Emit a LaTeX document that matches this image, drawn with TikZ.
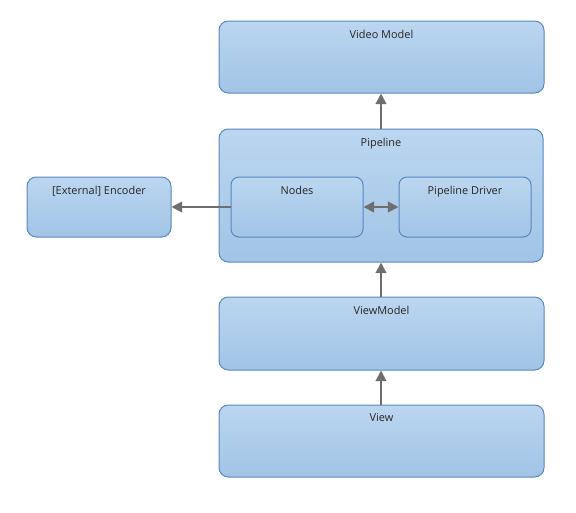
\documentclass[tikz,border=0pt]{standalone}
\usepackage{fontspec}
\setmainfont{Open Sans}
\usetikzlibrary{arrows.meta,fit}
\definecolor{boxtop}{RGB}{187,214,239}
\definecolor{boxbot}{RGB}{161,196,230}
\definecolor{boxline}{RGB}{88,136,194}
\definecolor{arrowgray}{RGB}{110,110,110}
\begin{document}
\begin{tikzpicture}[x=0.75pt,y=-0.75pt,
  box/.style={draw=boxline, line width=0.75pt, rounded corners=7pt,
    top color=boxtop, bottom color=boxbot, inner sep=0pt},
  inbox/.style={box, rounded corners=6pt},
  title/.style={anchor=north, inner sep=0pt, yshift=-6.8pt,
    font=\fontsize{8.2pt}{10pt}\selectfont, text=black!85},
  conn/.style={draw=arrowgray, line width=1.5pt,
    -{Triangle[length=8pt,width=8pt]}},
  conn2/.style={draw=arrowgray, line width=1.5pt,
    {Triangle[length=8pt,width=8pt]}-{Triangle[length=8pt,width=8pt]}}]
\useasboundingbox (0,0) rectangle (576,512);

% main layers
\node[box, fit={(219,21)(544,93)},
  label={[title]north:Video Model}] (video) {};
\node[box, fit={(219,129)(543,262)},
  label={[title]north:Pipeline}] (pipe) {};
\node[box, fit={(219,297)(544,370)},
  label={[title]north:ViewModel}] (vm) {};
\node[box, fit={(219,405)(544,477)},
  label={[title]north:View}] (view) {};

% pipeline internals
\node[inbox, fit={(231,177)(363,237)},
  label={[title]north:Nodes}] (nodes) {};
\node[inbox, fit={(399,177)(531,237)},
  label={[title]north:Pipeline Driver}] (driver) {};

% external encoder
\node[box, fit={(27,177)(171,237)},
  label={[title]north:[External] Encoder}] (enc) {};

% connectors
\draw[conn] (pipe.north -| 381,0) -- (video.south -| 381,0);
\draw[conn] (vm.north -| 381,0) -- (pipe.south -| 381,0);
\draw[conn] (view.north -| 381,0) -- (vm.south -| 381,0);
\draw[conn] (nodes.west) -- (enc.east);
\draw[conn2] (nodes.east) -- (driver.west);
\end{tikzpicture}
\end{document}
